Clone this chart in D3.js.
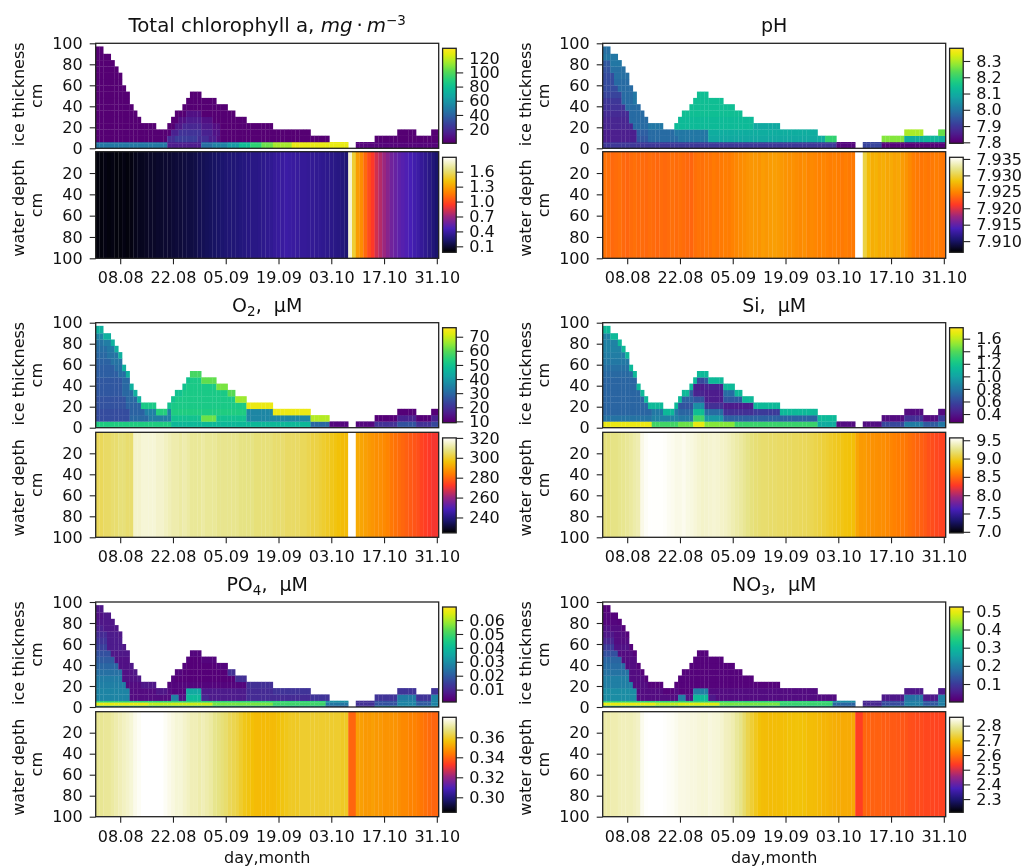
<!DOCTYPE html>
<html>
<head>
<meta charset="utf-8">
<script src="https://cdn.jsdelivr.net/npm/d3@7"></script>
<style>
  html, body { margin: 0; padding: 0; background: #fff; }
  svg { display: block; filter: blur(0.45px); }
  text { font-family: "DejaVu Sans", sans-serif; fill: #111; }
</style>
</head>
<body>
<div class="chart"></div>
<script>
// ice column thickness, one value per day, cm
var ice_thickness = [97,97,90,90,84,78,72,60,54,42,36,30,24,24,24,24,18,18,18,24,30,36,36,42,48,54,54,54,48,48,48,48,42,42,42,36,36,30,30,30,24,24,24,24,24,24,24,18,18,18,18,18,18,18,18,18,18,12,12,12,12,12,6,6,6,6,6,0,0,6,6,6,6,6,12,12,12,12,12,12,18,18,18,18,18,12,12,12,12,18,18];
var ice_edges = [0,1.5,4.5,6,12,18,24,30,36,42,48,54,60,66,72,78,84,90,97];

var date_start = new Date(2000, 7, 1, 12);
var date_ticks = [new Date(2000,7,8), new Date(2000,7,22), new Date(2000,8,5), new Date(2000,8,19), new Date(2000,9,3), new Date(2000,9,17), new Date(2000,9,31)];
var depth_ticks_ice = [0,20,40,60,80,100];
var depth_ticks_water = [20,40,60,80,100];

// ice layers: [number of days, value] runs per layer, bottom layer first
var chl_bottom = [[19,48],[9,14],[3,45],[4,52],[3,62],[3,78],[3,92],[3,105],[5,115],[15,128],[2,0],[22,5]];
var chl_ice = [chl_bottom, chl_bottom, chl_bottom,
  [[19,3],[2,20],[6,26],[3,20],[2,14],[1,8],[58,3]],
  [[20,3],[2,16],[6,22],[3,16],[2,10],[58,3]],
  [[21,3],[2,12],[5,18],[3,13],[2,8],[58,3]],
  [[22,3],[2,9],[4,14],[3,9],[60,3]],
  [[24,3],[4,9],[63,3]],
  [[91,3]],[[91,3]],[[91,3]],[[91,3]],[[91,3]],[[91,3]],[[91,3]],[[91,3]],[[91,3]],[[91,3]]];
var chl_top = [];
var chl_water = [.01,.01,.02,.01,.02,.01,.01,.02,.01,.02,
  .04,.05,.05,.06,.07,.07,.08,.08,.09,.09,
  .1,.11,.11,.12,.13,.13,.14,.16,.17,.18,
  .19,.2,.21,.23,.24,.25,.25,.26,.27,.28,
  .29,.3,.3,.31,.32,.33,.34,.36,.37,.38,
  .4,.39,.38,.37,.36,.36,.35,.35,.34,.34,
  .33,.32,.31,.3,.29,.27,.24,
  1.8,1.5,
  1.28,1.22,1.1,1.0,.93,.82,.76,.7,.64,.58,.55,.52,.5,.48,.45,.42,.4,.36,.33,.3,.26,.22];

var ph_bottom = [[62,7.9],[5,7.82],[2,7.9],[5,7.92],[17,7.81]];
var ph_ice = [ph_bottom, ph_bottom, ph_bottom,
  [[9,7.86],[3,7.95],[8,7.98],[8,8.0],[29,8.09],[2,8.1],[3,8.2],[12,0],[6,8.27],[5,8.1],[4,8.12],[2,8.1]],
  [[9,7.86],[3,7.96],[7,7.98],[9,8.0],[29,8.1],[23,0],[5,8.3],[4,0],[2,8.25]],
  [[8,7.87],[4,7.98],[7,8.0],[21,8.13],[7,8.09],[44,0]],
  [[7,7.87],[5,7.98],[8,8.0],[20,8.13],[51,0]],
  [[7,7.88],[4,7.98],[10,8.0],[16,8.14],[54,0]],
  [[6,7.89],[4,7.98],[13,8.0],[12,8.14],[56,0]],
  [[5,7.9],[3,7.98],[16,8.0],[8,8.14],[59,0]],
  [[5,7.92],[3,7.98],[17,8.0],[3,8.14],[63,0]],
  [[4,7.93],[4,7.98],[83,8.0]],
  [[3,7.93],[88,7.98]],
  [[3,7.93],[88,7.99]],
  [[2,7.94],[89,7.99]],
  [[2,7.95],[89,8.0]],
  [[91,8.0]],[[91,7.99]]];
var ph_top = [];
var ph_water = [7.9241,7.9239,7.9235,7.9237,7.9239,7.9235,7.9233,7.9237,7.9239,7.9236,
  7.9237,7.9235,7.9238,7.9236,7.9234,7.9237,7.9235,7.9237,7.9239,7.9237,
  7.9239,7.9237,7.9235,7.9233,7.9239,7.9241,7.9239,7.9242,7.9241,7.9244,
  7.9242,7.9244,7.9246,7.9245,7.9248,7.9251,7.9253,7.9255,7.9257,7.9259,
  7.926,7.9258,7.9262,7.926,7.9262,7.9264,7.9262,7.926,7.9258,7.9256,
  7.9256,7.9254,7.9252,7.9255,7.925,7.9252,7.925,7.9248,7.925,7.9248,
  7.9246,7.9248,7.9246,7.9244,7.9246,7.9244,7.9244,
  7.9355,7.9355,
  7.93,7.928,7.9272,7.9274,7.927,7.9272,7.9268,7.927,7.9266,7.9268,7.9262,7.9258,7.9252,7.9246,7.9244,7.9242,7.9244,7.9242,7.9244,7.9246,7.9244,7.9242];

var o2_bottom = [[20,53],[37,47],[5,30],[5,12],[2,0],[5,12],[6,20],[5,26],[4,20],[2,24]];
var o2_ice = [o2_bottom, o2_bottom, o2_bottom,
  [[9,25],[5,30],[6,34],[8,50],[4,62],[8,50],[17,36],[5,0],[12,0],[6,11],[5,17],[4,11],[2,17]],
  [[9,25],[4,29],[7,35],[20,53],[17,36],[34,0]],
  [[8,26],[4,29],[7,36],[21,52],[51,37]],
  [[8,26],[4,30],[8,36],[20,52],[51,0]],
  [[7,27],[4,30],[10,0],[16,52],[54,0]],
  [[7,27],[3,30],[13,0],[12,52],[56,0]],
  [[7,27],[3,30],[14,0],[8,52],[59,0]],
  [[6,28],[3,31],[16,0],[3,52],[63,0]],
  [[5,28],[3,31],[83,0]],
  [[4,29],[87,32]],
  [[3,30],[88,32]],
  [[3,31],[88,33]],
  [[2,32],[89,34]],
  [[91,36]],[[91,36]]];
var o2_top = [[12,45],[4,52],[3,54],[6,50],[3,58],[4,61],[3,63],[2,60],[3,66],[17,74],[5,68],[5,11],[2,0],[22,11]];
var o2_water = [304,304,305,305,306,306,307,307,306,306,
  315,315,316,316,316,316,315,315,314,313,
  312,312,311,312,311,310,310,310,311,310,
  310,310,309,309,309,309,309,309,308,308,
  308,308,307,307,307,307,307,306,306,306,
  305,305,305,305,304,304,303,302,302,301,
  300,299,298,297,296,295,295,
  320,320,
  292,291,290,289,288,287,287,286,285,283,282,281,280,279,278,277,276,274,273,272,271,271];

var si_bottom = [[13,1.72],[7,1.35],[4,1.45],[3,1.7],[8,1.5],[22,1.33],[5,1.05],[5,.35],[2,0],[5,.36],[6,.6],[5,.82],[4,.68],[2,.8]];
var si_ice = [si_bottom, si_bottom, si_bottom,
  [[13,.78],[7,.85],[4,.8],[3,1.35],[5,.95],[8,.7],[17,.7],[5,0],[12,0],[6,0],[5,.5],[4,0],[2,.55]],
  [[13,.72],[7,.8],[4,.72],[3,1.15],[5,.75],[8,.5],[17,.55],[34,0]],
  [[12,.72],[8,.78],[4,.65],[3,.9],[5,.5],[8,.42],[7,.55],[44,0]],
  [[11,.72],[9,0],[4,.7],[3,.65],[5,.42],[8,.66],[51,0]],
  [[11,.72],[10,0],[3,.68],[3,.45],[5,.42],[5,.75],[54,0]],
  [[10,.72],[13,0],[1,.8],[3,.42],[5,.45],[3,.8],[56,0]],
  [[9,.72],[15,0],[3,.6],[5,.68],[59,0]],
  [[8,.74],[17,0],[3,.75],[63,0]],
  [[8,.76],[83,0]],
  [[91,.8]],[[91,.82]],[[91,.85]],[[91,.85]],[[91,.85]],[[91,.85]]];
var si_top = [[62,1.12],[5,.34],[2,0],[22,.35]];
var si_water = [9.22,9.22,9.24,9.24,9.26,9.27,9.29,9.31,9.34,9.36,
  9.5,9.54,9.56,9.56,9.56,9.56,9.55,9.53,9.52,9.5,
  9.5,9.52,9.49,9.48,9.46,9.44,9.42,9.43,9.44,9.45,
  9.44,9.42,9.41,9.39,9.36,9.33,9.31,9.28,9.25,9.22,
  9.2,9.19,9.18,9.18,9.17,9.17,9.16,9.16,9.15,9.15,
  9.14,9.14,9.13,9.13,9.12,9.11,9.09,9.07,9.05,9.03,
  9.01,8.99,8.97,8.95,8.93,8.92,8.9,
  8.78,8.72,8.73,8.7,8.68,8.67,8.66,8.66,8.64,8.62,
  8.6,8.58,8.57,8.55,8.52,8.5,8.47,8.45,8.42,8.38,
  8.36,8.34,8.32,8.31];

var po4_ice = [
  [[61,.036],[6,.02],[2,0],[5,.012],[17,.03]],
  [[14,.066],[6,.062],[11,.063],[16,.056],[14,.05],[6,.025],[2,0],[5,.012],[6,.018],[5,.028],[4,.02],[2,.028]],
  [[61,.048],[6,.03],[2,0],[5,.012],[6,.018],[5,.028],[4,.02],[2,.028]],
  [[9,.028],[11,.005],[2,.027],[2,.006],[4,.04],[2,.01],[10,.008],[17,.011],[5,.016],[12,0],[6,0],[5,.026],[4,0],[2,.028]],
  [[9,.028],[11,.005],[4,.004],[4,.036],[12,.008],[17,.011],[34,0]],
  [[8,.027],[12,.005],[20,.004],[7,.01],[44,0]],
  [[7,.026],[13,.006],[20,.003],[51,0]],
  [[7,.024],[14,.006],[16,.003],[54,0]],
  [[6,.022],[17,.006],[12,.003],[56,0]],
  [[5,.02],[19,.006],[8,.003],[59,0]],
  [[4,.018],[21,.007],[3,.003],[63,0]],
  [[3,.015],[5,.008],[83,0]],
  [[3,.013],[88,.008]],
  [[3,.011],[88,.008]],
  [[2,.009],[89,.007]],
  [[91,.007]],[[91,.006]],[[91,.006]]];
var po4_top = [[19,.007],[16,.004],[12,.012],[15,.013],[5,.013],[2,0],[22,.013]];
var po4_water = [.3695,.3695,.37,.37,.371,.372,.373,.374,.375,.376,
  .378,.379,.38,.38,.38,.38,.38,.38,.379,.378,
  .377,.376,.376,.375,.374,.373,.373,.372,.373,.372,
  .371,.369,.368,.367,.366,.364,.363,.362,.36,.358,
  .357,.356,.355,.355,.355,.355,.355,.355,.356,.357,
  .358,.359,.359,.359,.36,.36,.36,.36,.36,.36,
  .36,.36,.36,.36,.36,.359,.359,
  .34,.34,
  .35,.35,.349,.349,.35,.349,.349,.348,.348,.348,.348,.347,.346,.346,.345,.345,.344,.343,.342,.341,.34,.34];

var no3_ice = [
  [[61,.27],[6,.15],[2,0],[5,.08],[17,.2]],
  [[14,.5],[6,.47],[11,.49],[16,.42],[14,.37],[6,.16],[2,0],[5,.07],[6,.12],[5,.2],[4,.14],[2,.2]],
  [[61,.36],[6,.22],[2,0],[5,.07],[6,.12],[5,.2],[4,.14],[2,.2]],
  [[9,.22],[11,.03],[2,.2],[2,.04],[4,.3],[2,.05],[27,.03],[5,.07],[12,0],[6,0],[5,.18],[4,0],[2,.2]],
  [[9,.22],[11,.03],[4,.02],[4,.2],[29,.03],[34,0]],
  [[8,.2],[12,.03],[27,.02],[44,0]],
  [[7,.2],[13,.03],[20,.02],[51,0]],
  [[7,.18],[14,.03],[16,.02],[54,0]],
  [[6,.17],[17,.03],[12,.02],[56,0]],
  [[5,.16],[19,.03],[8,.02],[59,0]],
  [[4,.13],[21,.03],[3,.02],[63,0]],
  [[3,.1],[5,.04],[83,0]],
  [[3,.07],[88,.03]],
  [[3,.05],[88,.03]],
  [[2,.04],[89,.03]],
  [[91,.025]],[[91,.025]],[[91,.025]]];
var no3_top = [[47,.02],[15,.03],[5,.05],[2,0],[22,.05]];
var no3_water = [2.8,2.8,2.805,2.805,2.81,2.812,2.812,2.81,2.815,2.82,
  2.845,2.855,2.857,2.857,2.857,2.857,2.855,2.852,2.85,2.845,
  2.84,2.84,2.838,2.835,2.835,2.832,2.83,2.83,2.835,2.832,
  2.83,2.825,2.815,2.812,2.805,2.79,2.78,2.76,2.74,2.725,
  2.71,2.695,2.69,2.69,2.688,2.69,2.69,2.692,2.693,2.695,
  2.695,2.697,2.695,2.695,2.69,2.69,2.688,2.685,2.68,2.68,
  2.675,2.672,2.67,2.668,2.667,2.667,2.665,
  2.54,2.54,
  2.585,2.585,2.58,2.58,2.58,2.575,2.575,2.572,2.572,2.57,2.568,2.565,2.56,2.558,2.555,2.555,2.55,2.55,2.548,2.547,2.546,2.545];

// colour bar ranges and ticks
var chl_ice_range = [0,134], chl_ice_ticks = [20,40,60,80,100,120];
var chl_water_range = [-0.02,1.89], chl_water_ticks = [.1,.4,.7,1.0,1.3,1.6];
var ph_ice_range = [7.794,8.378], ph_ice_ticks = [7.8,7.9,8.0,8.1,8.2,8.3];
var ph_water_range = [7.9066,7.9355], ph_water_ticks = [7.91,7.915,7.92,7.925,7.93,7.935];
var o2_ice_range = [9.05,76.4], o2_ice_ticks = [10,20,30,40,50,60,70];
var o2_water_range = [224.5,320], o2_water_ticks = [240,260,280,300,320];
var si_ice_range = [.262,1.775], si_ice_ticks = [.4,.6,.8,1.0,1.2,1.4,1.6];
var si_water_range = [6.97,9.564], si_water_ticks = [7.0,7.5,8.0,8.5,9.0,9.5];
var po4_ice_range = [.0011,.0694], po4_ice_ticks = [.01,.02,.03,.04,.05,.06];
var po4_water_range = [.285,.38], po4_water_ticks = [.30,.32,.34,.36];
var no3_ice_range = [.001,.524], no3_ice_ticks = [.1,.2,.3,.4,.5];
var no3_water_range = [2.21,2.857], no3_water_ticks = [2.3,2.4,2.5,2.6,2.7,2.8];

// CMRmap as it prints in the picture, a bit more saturated than matplotlib's
var cmr_r = [0,.1,.28,.6,1,1,.95,.9,1];
var cmr_g = [0,.08,.12,.15,.22,.5,.76,.89,1];
var cmr_b = [0,.42,.72,.5,.15,0,.03,.52,1];
var cmr_pos = d3.range(9).map(function(i) { return i / 8; });
var cmr_rs = d3.scaleLinear().domain(cmr_pos).range(cmr_r);
var cmr_gs = d3.scaleLinear().domain(cmr_pos).range(cmr_g);
var cmr_bs = d3.scaleLinear().domain(cmr_pos).range(cmr_b);
function cmrmap(t) {
  return d3.rgb(255 * cmr_rs(t), 255 * cmr_gs(t), 255 * cmr_bs(t)) + '';
}

// same for viridis, only up to the yellow end
function viridis(t) {
  var c = d3.hsl(d3.interpolateViridis(t));
  c.s = Math.min(1, c.s * (t < 0.8 ? 1.28 : 1.28 - (t - 0.8) * 1.4));
  c.l = c.l + 0.03 * (1 - t);
  return c + '';
}

var column_left = [95.7, 602.7];
var panel_w = 343;
var ice_top_y = [43.3, 322.7, 602];
var ice_h = 105;
var water_top_y = [151.7, 432.3, 711.7];
var water_h = [106.6, 105, 105];
var bar_w = 13.6;
var frame = '#222';
var seam = 0.25;

var svg = d3.select('.chart').append('svg')
  .attr('width', 1023)
  .attr('height', 867);

function expand(runs) {
  var out = [];
  runs.forEach(function(r) {
    for (var i = 0; i < r[0]; i++) out.push(r[1]);
  });
  return out;
}

function styleAxis(g) {
  g.selectAll('text').style('font-size', '16px').attr('fill', '#111');
  g.selectAll('line').attr('stroke', frame).attr('stroke-width', 1.1);
  g.select('.domain').remove();
}

function colorbar(g, x, y, h, cmap, range, ticks, fmt, id) {
  var grad = svg.append('linearGradient').attr('id', id)
    .attr('x1', 0).attr('x2', 0).attr('y1', 1).attr('y2', 0);
  d3.range(0, 65).forEach(function(i) {
    grad.append('stop').attr('offset', i / 64).attr('stop-color', cmap(i / 64));
  });
  g.append('rect').attr('x', x).attr('y', y).attr('width', bar_w).attr('height', h)
    .attr('fill', 'url(#' + id + ')')
    .attr('stroke', frame).attr('stroke-width', 1.3);
  var s = d3.scaleLinear().domain(range).range([y + h, y]);
  g.append('g')
    .attr('transform', 'translate(' + (x + bar_w) + ',0)')
    .call(d3.axisRight(s).tickValues(ticks).tickFormat(d3.format(fmt)).tickSize(7).tickPadding(6))
    .call(styleAxis);
}

function panel(col, row, title, data, showDates) {
  var left = column_left[col];
  var iceY = ice_top_y[row], wY = water_top_y[row], wH = water_h[row];
  var g = svg.append('g').attr('class', 'panel');

  var x = d3.scaleLinear().domain([0, 91]).range([left, left + panel_w]);
  var xDate = d3.scaleTime()
    .domain([date_start, d3.timeDay.offset(date_start, 91)])
    .range([left, left + panel_w]);
  var yIce = d3.scaleLinear().domain([0, 100]).range([iceY + ice_h, iceY]);
  var yWater = d3.scaleLinear().domain([0, 100]).range([wY, wY + wH]);
  var cIce = d3.scaleSequential(viridis).domain(data.iceRange).clamp(true);
  var cWater = d3.scaleSequential(cmrmap).domain(data.waterRange).clamp(true);

  // ice cells
  var cells = [];
  var topRow = expand(data.top);
  data.ice.forEach(function(runs, k) {
    expand(runs).forEach(function(v, i) {
      if (ice_edges[k + 1] <= ice_thickness[i]) {
        var isTop = ice_edges[k + 2] === undefined || ice_edges[k + 2] > ice_thickness[i];
        var val = (isTop && k >= 3 && topRow.length) ? topRow[i] : v;
        cells.push({ col: i, layer: k, v: val });
      }
    });
  });
  g.append('g').selectAll('rect').data(cells).enter().append('rect')
    .attr('x', function(d) { return x(d.col); })
    .attr('width', function(d) { return x(d.col + 1) - x(d.col) + (d.col < 90 ? seam : 0); })
    .attr('y', function(d) { return yIce(ice_edges[d.layer + 1]); })
    .attr('height', function(d) { return yIce(ice_edges[d.layer]) - yIce(ice_edges[d.layer + 1]) + (d.layer > 0 ? seam : 0); })
    .attr('fill', function(d) { return cIce(d.v); });

  // water columns
  g.append('g').selectAll('rect').data(data.water).enter().append('rect')
    .attr('x', function(d, i) { return x(i); })
    .attr('width', function(d, i) { return x(i + 1) - x(i) + (i < 90 ? seam : 0); })
    .attr('y', wY)
    .attr('height', wH)
    .attr('fill', function(d) { return cWater(d); });

  // frames
  [[iceY, ice_h], [wY, wH]].forEach(function(f) {
    g.append('rect').attr('x', left).attr('y', f[0]).attr('width', panel_w).attr('height', f[1])
      .attr('fill', 'none').attr('stroke', frame).attr('stroke-width', 1.3);
  });

  g.append('g')
    .attr('transform', 'translate(' + left + ',0)')
    .call(d3.axisLeft(yIce).tickValues(depth_ticks_ice).tickSize(6).tickPadding(7))
    .call(styleAxis);
  g.append('g')
    .attr('transform', 'translate(' + left + ',0)')
    .call(d3.axisLeft(yWater).tickValues(depth_ticks_water).tickSize(6).tickPadding(7))
    .call(styleAxis);
  g.append('g')
    .attr('transform', 'translate(0,' + (wY + wH) + ')')
    .call(d3.axisBottom(xDate).tickValues(date_ticks).tickFormat(d3.timeFormat('%d.%m')).tickSize(6).tickPadding(7.5))
    .call(styleAxis);

  // y labels
  var lab1 = left - 77.5, lab2 = left - 59;
  [[iceY + ice_h / 2, 'ice thickness', -1.5], [wY + wH / 2, 'water depth', 3]].forEach(function(l) {
    g.append('text')
      .attr('transform', 'translate(' + lab1 + ',' + (l[0] + l[2]) + ') rotate(-90)')
      .attr('dy', '.36em').attr('text-anchor', 'middle').style('font-size', '16px').text(l[1]);
    g.append('text')
      .attr('transform', 'translate(' + lab2 + ',' + l[0] + ') rotate(-90)')
      .attr('dy', '.36em').attr('text-anchor', 'middle').style('font-size', '16px').text('cm');
  });

  // title
  var t = g.append('text')
    .attr('x', left + panel_w / 2)
    .attr('y', iceY - 11)
    .attr('text-anchor', 'middle')
    .style('font-size', data.titleSize || '19px');
  title.forEach(function(p) {
    var s = t.append('tspan').text(p.text);
    if (p.italic) s.style('font-style', 'italic');
    if (p.dy) s.attr('dy', p.dy);
    if (p.small) s.style('font-size', '13.5px');
  });

  if (showDates) {
    g.append('text')
      .attr('x', left + panel_w / 2)
      .attr('y', wY + wH + 46.3)
      .attr('text-anchor', 'middle')
      .style('font-size', '16px')
      .text('day,month');
  }

  var barX = left + panel_w + 3.9;
  colorbar(g, barX, iceY + 5, 95, viridis, data.iceRange, data.iceTicks, data.iceFmt, 'ice' + col + row);
  colorbar(g, barX, wY + 5.6, 95, cmrmap, data.waterRange, data.waterTicks, data.waterFmt, 'water' + col + row);
}

panel(0, 0,
  [{ text: 'Total chlorophyll a, ' }, { text: 'mg', italic: true }, { text: '\u2009\u00b7\u2009' }, { text: 'm', italic: true },
   { text: '\u22123', dy: '-7', small: true }],
  { ice: chl_ice, top: chl_top, water: chl_water, iceRange: chl_ice_range, iceTicks: chl_ice_ticks, iceFmt: 'd',
    waterRange: chl_water_range, waterTicks: chl_water_ticks, waterFmt: '.1f', titleSize: '19.8px' }, false);
panel(1, 0, [{ text: 'pH' }],
  { ice: ph_ice, top: ph_top, water: ph_water, iceRange: ph_ice_range, iceTicks: ph_ice_ticks, iceFmt: '.1f',
    waterRange: ph_water_range, waterTicks: ph_water_ticks, waterFmt: '.3f' }, false);
panel(0, 1, [{ text: 'O' }, { text: '2', dy: '4', small: true }, { text: ',\u00a0 \u00b5M', dy: '-4' }],
  { ice: o2_ice, top: o2_top, water: o2_water, iceRange: o2_ice_range, iceTicks: o2_ice_ticks, iceFmt: 'd',
    waterRange: o2_water_range, waterTicks: o2_water_ticks, waterFmt: 'd' }, false);
panel(1, 1, [{ text: 'Si,\u00a0 \u00b5M' }],
  { ice: si_ice, top: si_top, water: si_water, iceRange: si_ice_range, iceTicks: si_ice_ticks, iceFmt: '.1f',
    waterRange: si_water_range, waterTicks: si_water_ticks, waterFmt: '.1f' }, false);
panel(0, 2, [{ text: 'PO' }, { text: '4', dy: '4', small: true }, { text: ',\u00a0 \u00b5M', dy: '-4' }],
  { ice: po4_ice, top: po4_top, water: po4_water, iceRange: po4_ice_range, iceTicks: po4_ice_ticks, iceFmt: '.2f',
    waterRange: po4_water_range, waterTicks: po4_water_ticks, waterFmt: '.2f' }, true);
panel(1, 2, [{ text: 'NO' }, { text: '3', dy: '4', small: true }, { text: ',\u00a0 \u00b5M', dy: '-4' }],
  { ice: no3_ice, top: no3_top, water: no3_water, iceRange: no3_ice_range, iceTicks: no3_ice_ticks, iceFmt: '.1f',
    waterRange: no3_water_range, waterTicks: no3_water_ticks, waterFmt: '.1f' }, true);
</script>
</body>
</html>
